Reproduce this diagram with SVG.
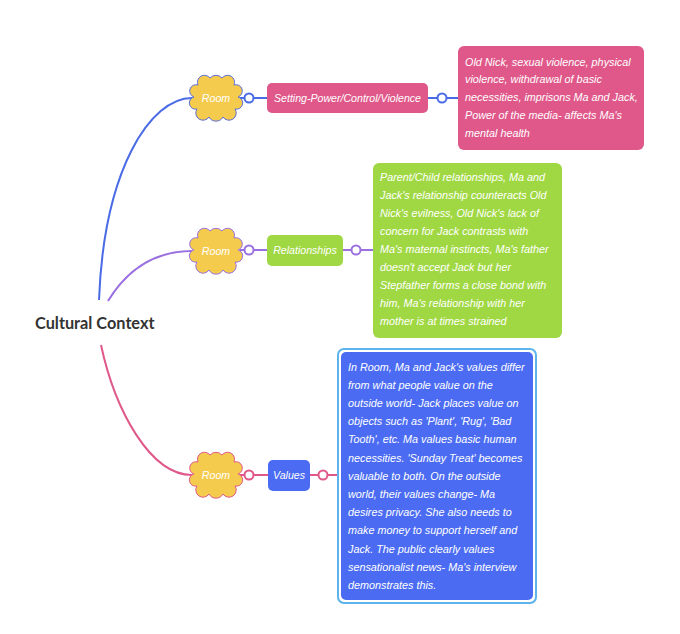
<svg xmlns="http://www.w3.org/2000/svg" width="680" height="634" viewBox="0 0 680 634">
<style>
.lbl{font-family:"Liberation Sans",Arial,sans-serif;font-style:italic;fill:#fff;font-size:10.6px}
.para{font-family:"Liberation Sans",Arial,sans-serif;font-style:italic;fill:#fff;font-size:10.8px}
.root{font-family:Lato,"Liberation Sans",sans-serif;font-weight:bold;fill:#333;font-size:16.3px}
.conn{fill:none;stroke-width:2}
.dot{fill:#fff;stroke-width:2}
</style>
<defs>
<path id="cloud" d="M-18,-13 a7,7 0 0 1 12,-7 a8,8 0 0 1 12,0 a7,7 0 0 1 12,7 a6,6 0 0 1 4,12 a6,6 0 0 1 -3,12 a7,7 0 0 1 -12,8 a8,8 0 0 1 -14,0 a7,7 0 0 1 -12,-8 a6,6 0 0 1 -3,-12 a6,6 0 0 1 4,-12 Z"/>
</defs>
<rect width="680" height="634" fill="#fff"/>
<g id="connectors">
<path class="conn" stroke="#4a6be6" d="M99,300 C104,170 150,98 192,98"/>
<path class="conn" stroke="#9a70e0" d="M108,301 C130,265 160,251 192,251"/>
<path class="conn" stroke="#e0588a" d="M101,345 C115,410 150,475 192,475"/>
<path class="conn" stroke="#4a6be6" d="M240,98 H458"/>
<path class="conn" stroke="#9a70e0" d="M240,250 H373"/>
<path class="conn" stroke="#e0588a" d="M240,475 H337"/>
<circle class="dot" stroke="#4a6be6" cx="249" cy="98" r="4.5"/>
<circle class="dot" stroke="#4a6be6" cx="442" cy="98" r="4.5"/>
<circle class="dot" stroke="#9a70e0" cx="249" cy="250" r="4.5"/>
<circle class="dot" stroke="#9a70e0" cx="356" cy="250" r="4.5"/>
<circle class="dot" stroke="#e0588a" cx="249" cy="475" r="4.5"/>
<circle class="dot" stroke="#e0588a" cx="323" cy="475" r="4.5"/>
</g>
<g id="root">
<text class="root" x="35" y="329">Cultural Context</text>
</g>
<g id="room1">
<use href="#cloud" x="216" y="98" fill="#f5cb4d" stroke="#5a6fd8" stroke-width="1"/>
<text class="lbl" x="216" y="101.5" text-anchor="middle">Room</text>
</g>
<g id="room2">
<use href="#cloud" x="216" y="251" fill="#f5cb4d" stroke="#9a70e0" stroke-width="1"/>
<text class="lbl" x="216" y="254.5" text-anchor="middle">Room</text>
</g>
<g id="room3">
<use href="#cloud" x="216" y="475" fill="#f5cb4d" stroke="#e0588a" stroke-width="1"/>
<text class="lbl" x="216" y="478.5" text-anchor="middle">Room</text>
</g>
<g id="topic1">
<rect x="267" y="83" width="161" height="30" rx="5" fill="#e0588a"/>
<text class="lbl" x="347.5" y="101.8" text-anchor="middle">Setting-Power/Control/Violence</text>
</g>
<g id="topic2">
<rect x="267" y="235" width="76" height="31" rx="5" fill="#a0d843"/>
<text class="lbl" x="305" y="254.3" text-anchor="middle">Relationships</text>
</g>
<g id="topic3">
<rect x="268" y="460" width="42" height="31" rx="5" fill="#4b6cf2"/>
<text class="lbl" x="289" y="479.3" text-anchor="middle">Values</text>
</g>
<g id="detail1">
<rect x="458" y="46" width="186" height="104" rx="6" fill="#e0588a"/>
<text class="para" x="465" y="65.5">Old Nick, sexual violence, physical</text>
<text class="para" x="465" y="83.3">violence, withdrawal of basic</text>
<text class="para" x="465" y="101.1">necessities, imprisons Ma and Jack,</text>
<text class="para" x="465" y="118.9">Power of the media- affects Ma's</text>
<text class="para" x="465" y="136.7">mental health</text>
</g>
<g id="detail2">
<rect x="373" y="163" width="189" height="175" rx="6" fill="#a0d843"/>
<text class="para" x="380" y="180.5">Parent/Child relationships, Ma and</text>
<text class="para" x="380" y="198.5">Jack's relationship counteracts Old</text>
<text class="para" x="380" y="216.5">Nick's evilness, Old Nick's lack of</text>
<text class="para" x="380" y="234.5">concern for Jack contrasts with</text>
<text class="para" x="380" y="252.5">Ma's maternal instincts, Ma's father</text>
<text class="para" x="380" y="270.5">doesn't accept Jack but her</text>
<text class="para" x="380" y="288.5">Stepfather forms a close bond with</text>
<text class="para" x="380" y="306.5">him, Ma's relationship with her</text>
<text class="para" x="380" y="324.5">mother is at times strained</text>
</g>
<g id="detail3">
<rect x="338" y="349" width="198" height="254" rx="6" fill="none" stroke="#5db3ea" stroke-width="2"/>
<rect x="341" y="352" width="192" height="248" rx="5" fill="#4b6cf2"/>
<text class="para" x="348" y="370.5">In Room, Ma and Jack's values differ</text>
<text class="para" x="348" y="388.7">from what people value on the</text>
<text class="para" x="348" y="406.9">outside world- Jack places value on</text>
<text class="para" x="348" y="425.1">objects such as 'Plant', 'Rug', 'Bad</text>
<text class="para" x="348" y="443.3">Tooth', etc. Ma values basic human</text>
<text class="para" x="348" y="461.5">necessities. 'Sunday Treat' becomes</text>
<text class="para" x="348" y="479.7">valuable to both. On the outside</text>
<text class="para" x="348" y="497.9">world, their values change- Ma</text>
<text class="para" x="348" y="516.1">desires privacy. She also needs to</text>
<text class="para" x="348" y="534.3">make money to support herself and</text>
<text class="para" x="348" y="552.5">Jack. The public clearly values</text>
<text class="para" x="348" y="570.7">sensationalist news- Ma's interview</text>
<text class="para" x="348" y="588.9">demonstrates this.</text>
</g>
</svg>
